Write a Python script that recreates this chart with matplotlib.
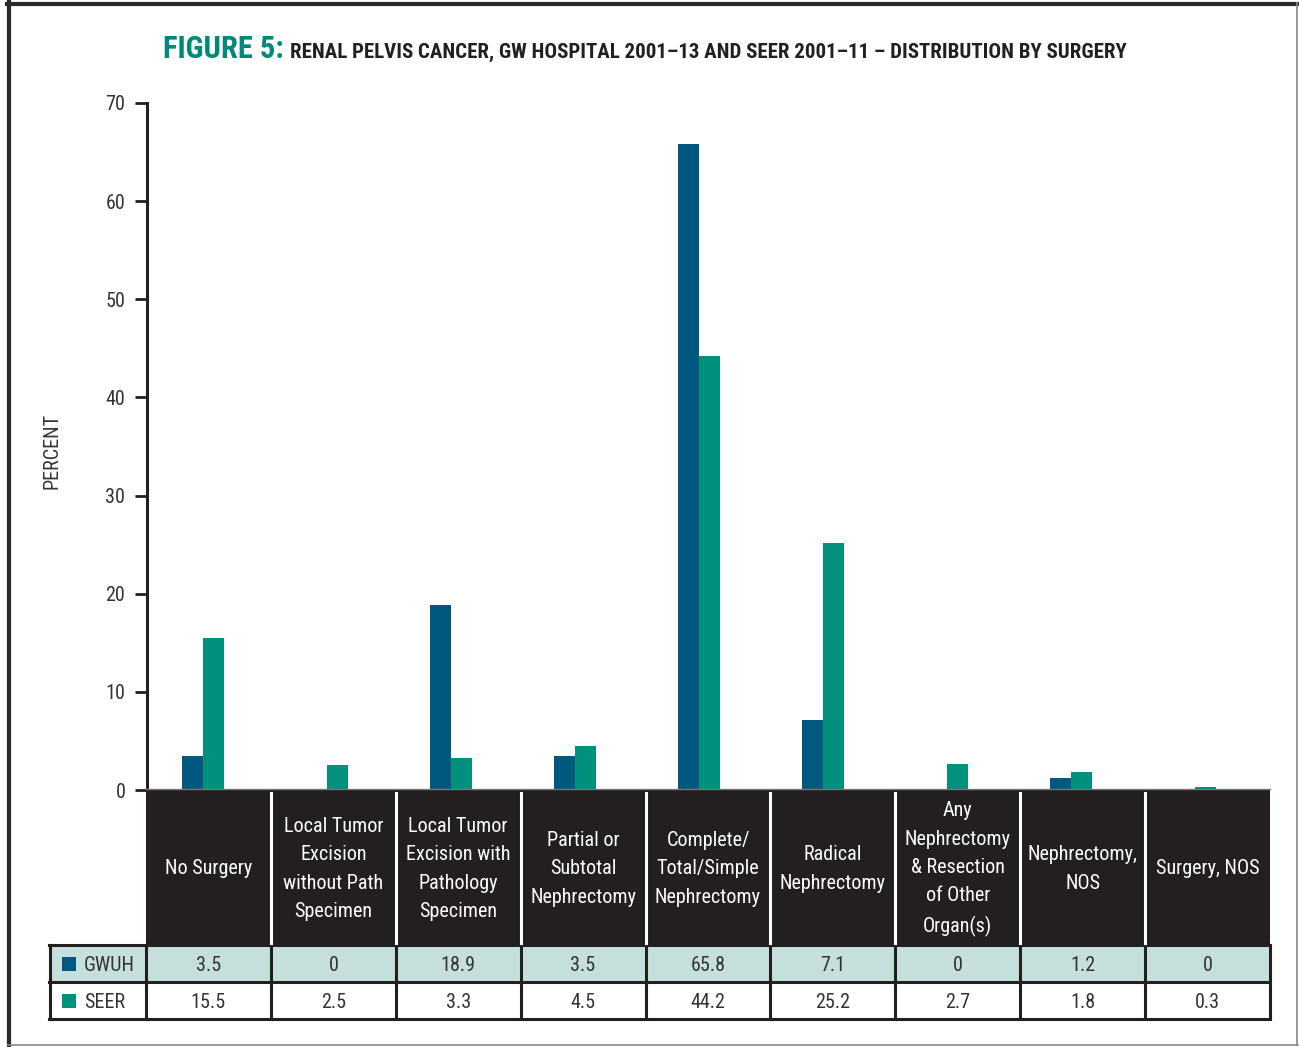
import matplotlib
matplotlib.use("Agg")
import matplotlib.pyplot as plt
from matplotlib.patches import Rectangle
from matplotlib.lines import Line2D

categories = ["No Surgery",
              "Local Tumor\nExcision\nwithout Path\nSpecimen",
              "Local Tumor\nExcision with\nPathology\nSpecimen",
              "Partial or\nSubtotal\nNephrectomy",
              "Complete/\nTotal/Simple\nNephrectomy",
              "Radical\nNephrectomy",
              "Any\nNephrectomy\n& Resection\nof Other\nOrgan(s)",
              "Nephrectomy,\nNOS",
              "Surgery, NOS"]
gwuh = [3.5, 0, 18.9, 3.5, 65.8, 7.1, 0, 1.2, 0]
seer = [15.5, 2.5, 3.3, 4.5, 44.2, 25.2, 2.7, 1.8, 0.3]
gwuh_labels = ["3.5", "0", "18.9", "3.5", "65.8", "7.1", "0", "1.2", "0"]
seer_labels = ["15.5", "2.5", "3.3", "4.5", "44.2", "25.2", "2.7", "1.8", "0.3"]
yticks = [0, 10, 20, 30, 40, 50, 60, 70]

C_GW = "#00587f"
C_SE = "#00907c"
C_DARK = "#231f20"
C_ROW = "#c5e0dc"
C_TXT = "#333333"
FONT = ["Roboto Condensed", "DejaVu Sans"]
plt.rcParams["font.family"] = FONT

W, H = 1299, 1047
fig = plt.figure(figsize=(W / 100, H / 100), dpi=100)

def fx(px):
    return px / W

def fy(py):
    return 1 - py / H

# frame
fig.add_artist(Line2D([fx(7), fx(1298)], [fy(3.5), fy(3.5)], color="#2a2a2a", lw=3))
fig.add_artist(Line2D([fx(8.5), fx(8.5)], [fy(2), fy(1045)], color="#2a2a2a", lw=3))
fig.add_artist(Line2D([fx(1297), fx(1297)], [fy(3), fy(1045)], color="#888888", lw=1.2))
fig.add_artist(Line2D([fx(8), fx(1298)], [fy(1045), fy(1045)], color="#888888", lw=1.2))

# title
t1 = fig.text(fx(163), fy(58), "FIGURE 5:", color="#00897b", fontsize=22,
              fontweight="bold", va="baseline", ha="left")
fig.canvas.draw()
bb = t1.get_window_extent()
fig.text(bb.x1 / W + fx(6), fy(58),
         "RENAL PELVIS CANCER, GW HOSPITAL 2001\u201313 AND SEER 2001\u201311 \u2013 DISTRIBUTION BY SURGERY",
         color=C_DARK, fontsize=15.0, fontweight="bold", va="baseline", ha="left")

# main axes
ax = fig.add_axes([fx(147), fy(790), fx(1270) - fx(147), fy(103) - fy(790)])
px_per = 124.0
x0 = 203.3
ax.set_xlim(-(x0 - 147) / px_per, (1270 - x0) / px_per)
ax.set_ylim(0, 70)
bw = 21 / px_per
xs = list(range(len(categories)))
ax.bar([x - bw / 2 for x in xs], gwuh, width=bw, color=C_GW, linewidth=0)
ax.bar([x + bw / 2 for x in xs], seer, width=bw, color=C_SE, linewidth=0)
for s in ["top", "right", "bottom"]:
    ax.spines[s].set_visible(False)
ax.spines["left"].set_linewidth(2.2)
ax.spines["left"].set_color(C_DARK)
ax.set_xticks([])
ax.set_yticks(yticks)
ax.tick_params(axis="y", length=8.6, width=2, color=C_DARK, labelsize=14.5,
               labelcolor=C_TXT, pad=7)
fig.text(fx(52), fy(451), "PERCENT", rotation=90, fontsize=14.5, color=C_TXT,
         ha="center", va="center")

# table axes
tx0, tx1 = 146, 1270
ty0, ty1 = 788, 1021
tax = fig.add_axes([fx(tx0), fy(ty1), fx(tx1) - fx(tx0), fy(ty0) - fy(ty1)])
tax.set_xlim(tx0, tx1)
tax.set_ylim(ty1, ty0)
tax.axis("off")
colw = (tx1 - tx0) / len(categories)

# header
tax.add_patch(Rectangle((tx0, 789), tx1 - tx0, 945 - 789, color=C_DARK, lw=0, clip_on=False))
tax.add_line(Line2D([tx0, tx1], [789, 789], color="#777777", lw=1, clip_on=False))
# rows
tax.add_patch(Rectangle((49, 945), tx1 - 49, 37, facecolor=C_ROW, edgecolor="none", clip_on=False))
tax.add_patch(Rectangle((49, 982), tx1 - 49, 37, facecolor="white", edgecolor="none", clip_on=False))
for yy in [945, 982, 1019]:
    tax.add_line(Line2D([49, tx1], [yy, yy], color=C_DARK, lw=2.2, clip_on=False))
tax.add_line(Line2D([49.5, 49.5], [945, 1019], color=C_DARK, lw=2.2, clip_on=False))
for i in range(len(categories) + 1):
    xb = tx0 + i * colw
    tax.add_line(Line2D([xb, xb], [945, 1019], color=C_DARK, lw=2.2, clip_on=False))
    if 0 < i < len(categories):
        tax.add_line(Line2D([xb, xb], [793, 943], color="white", lw=2.2, clip_on=False))

for i, cat in enumerate(categories):
    cx = tx0 + (i + 0.5) * colw
    tax.text(cx, 869, cat, color="white", fontsize=14.5, ha="center", va="center",
             linespacing=1.63, clip_on=False)
    tax.text(cx, 965.5, gwuh_labels[i], color=C_TXT, fontsize=14.5, ha="center",
             va="center", clip_on=False)
    tax.text(cx, 1002.5, seer_labels[i], color=C_TXT, fontsize=14.5, ha="center",
             va="center", clip_on=False)

# legend cells
tax.add_patch(Rectangle((62, 957), 14, 14, color=C_GW, lw=0, clip_on=False))
tax.add_patch(Rectangle((62, 994), 14, 14, color=C_SE, lw=0, clip_on=False))
tax.text(84, 965.5, "GWUH", color=C_TXT, fontsize=14.5, ha="left", va="center", clip_on=False)
tax.text(84, 1002.5, "SEER", color=C_TXT, fontsize=14.5, ha="left", va="center", clip_on=False)

fig.savefig("out.png", dpi=100)
